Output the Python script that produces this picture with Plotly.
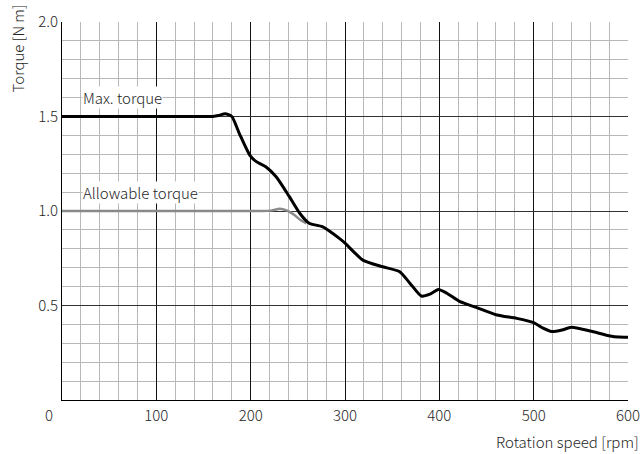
import plotly.graph_objects as go

# Data
speed_max = [0, 60, 120, 150, 160, 166, 173, 180, 188, 199, 206, 216, 227, 241, 252, 262,
             276, 294, 300, 319, 340, 358, 369, 381, 390, 399, 408, 422, 439, 461, 482,
             500, 510, 519, 530, 540, 560, 581, 590, 600]
torque_max = [1.5, 1.5, 1.5, 1.5, 1.5, 1.505, 1.515, 1.5, 1.41, 1.296, 1.261, 1.234, 1.181,
              1.076, 0.988, 0.935, 0.917, 0.855, 0.83, 0.74, 0.705, 0.679, 0.617, 0.55,
              0.56, 0.585, 0.565, 0.52, 0.49, 0.45, 0.432, 0.409, 0.38, 0.362, 0.37, 0.385,
              0.365, 0.339, 0.333, 0.332]

speed_allow = [0, 60, 120, 180, 210, 222, 231, 238, 246, 252, 259]
torque_allow = [1.0, 1.0, 1.0, 1.0, 1.0, 1.002, 1.012, 1.003, 0.98, 0.955, 0.935]

x_ticks = [100, 200, 300, 400, 500, 600]
y_ticks = [0.5, 1.0, 1.5, 2.0]

FONT = "Noto Sans CJK JP"
TXT = "#262626"
FS = 15

fig = go.Figure()
fig.add_trace(go.Scatter(x=speed_allow, y=torque_allow, mode="lines",
                         line=dict(color="#8a8a8a", width=2.5, shape="spline", smoothing=0.6),
                         showlegend=False, hoverinfo="skip"))
fig.add_trace(go.Scatter(x=speed_max, y=torque_max, mode="lines",
                         line=dict(color="#000000", width=3, shape="spline", smoothing=0.6),
                         showlegend=False, hoverinfo="skip"))

fig.update_layout(
    width=642, height=454,
    margin=dict(l=62, r=14, t=22, b=54, autoexpand=False),
    paper_bgcolor="white", plot_bgcolor="white",
    font=dict(family=FONT, size=FS, color=TXT, weight=300),
    xaxis=dict(range=[0, 600], tickmode="array", tickvals=x_ticks,
               ticktext=[str(v) for v in x_ticks],
               showgrid=True, gridcolor="#111111", gridwidth=1,
               minor=dict(dtick=20, tick0=0, showgrid=True, gridcolor="#b8b8b8", gridwidth=1),
               showline=True, linecolor="#000000", linewidth=1, mirror=False,
               zeroline=False, ticks="", ticklabelstandoff=2, fixedrange=True),
    yaxis=dict(range=[0, 2.0], tickmode="array", tickvals=y_ticks,
               ticktext=[f"{v:.1f}" for v in y_ticks],
               showgrid=True, gridcolor="#333333", gridwidth=1,
               minor=dict(dtick=0.1, tick0=0, showgrid=True, gridcolor="#b8b8b8", gridwidth=1),
               showline=True, linecolor="#000000", linewidth=1,
               zeroline=False, ticks="", fixedrange=True),
)

afont = dict(size=FS, color=TXT, family=FONT, weight=300)
ann = [
    dict(text="0", xref="x", yref="paper", x=0, y=0, xanchor="center", yanchor="top",
         xshift=-13, yshift=-2, showarrow=False, font=afont),
    dict(text="Rotation speed [rpm]", xref="x", yref="paper", x=600, y=0,
         xanchor="right", yanchor="top", yshift=-29, xshift=13, showarrow=False,
         font=afont),
    dict(text="Torque [N m]", xref="paper", yref="y", x=0, y=1.86, textangle=-90,
         xanchor="center", yanchor="middle", xshift=-45, showarrow=False,
         font=afont),
    dict(text="Max. torque", xref="x", yref="y", x=21, y=1.6, xanchor="left",
         yanchor="middle", showarrow=False, bgcolor="white", borderpad=0,
         font=afont),
    dict(text="Allowable torque", xref="x", yref="y", x=21, y=1.1, xanchor="left",
         yanchor="middle", showarrow=False, bgcolor="white", borderpad=0,
         font=afont),
]
fig.update_layout(annotations=ann)

fig.write_html("out.html", config={"displayModeBar": False},
               post_script="document.body.style.margin='0';document.body.style.overflow='hidden';")
